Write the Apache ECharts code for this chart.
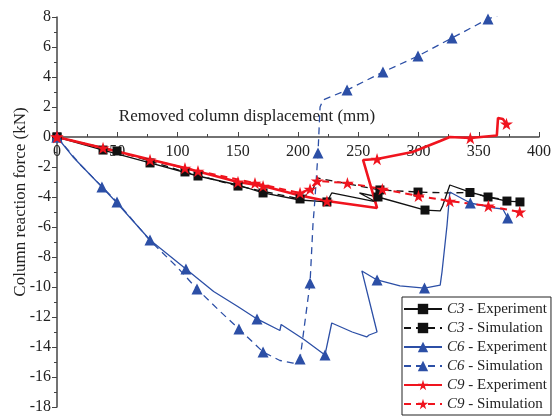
<!DOCTYPE html>
<html><head><meta charset="utf-8">
<script src="https://cdn.jsdelivr.net/npm/echarts@6/dist/echarts.min.js"></script>
<style>html,body{margin:0;padding:0;background:#fff}#c{width:552px;height:417px}</style>
</head><body><div id="c"></div>
<script>
// [x (mm), y (kN), marker flag]
const c3Experiment = [[0,0,1],[38.2,-0.87,1],[77.2,-1.73,1],[117,-2.6,1],[150.2,-3.2,0],[171,-3.73,1],[201.7,-4.2,0],[224,-4.33,1],[228,-3.73,0],[265,-4.33,0],[251,-3.73,0],[266.4,-4.0,1],[305.4,-4.87,1],[318,-4.93,0],[320,-4.6,0],[326,-3.2,0],[342.7,-3.67,0],[357.7,-4.0,1],[373.4,-4.27,1],[384.2,-4.33,0]];
const c3Simulation = [[0,0,1],[49.8,-0.93,1],[106.2,-2.33,1],[150.2,-3.27,1],[201.7,-4.13,1],[212,-3.6,0],[216,-2.73,0],[268,-3.53,1],[299.6,-3.67,1],[323.6,-3.73,0],[342.7,-3.7,1],[357.7,-4.0,0],[384.2,-4.33,1]];
const c6Experiment = [[0,0,1],[13.3,-1.33,0],[37.3,-3.33,1],[49.8,-4.4,0],[77.2,-6.87,1],[107,-8.8,1],[130,-10.3,0],[150,-11.3,0],[166,-12.13,1],[185,-12.9,0],[186,-12.5,0],[205,-13.5,0],[222.4,-14.53,1],[228,-12.4,0],[245,-13.0,0],[257,-13.33,0],[259,-13.2,0],[265.6,-13.0,0],[253,-8.93,0],[265.6,-9.53,1],[284.6,-9.93,0],[305,-10.07,1],[318,-9.87,0],[319.5,-9.0,0],[323.7,-5.87,0],[326,-3.67,0],[343,-4.4,1],[362,-4.73,0],[370,-4.8,0],[374,-5.4,1]];
const c6Simulation = [[0,0,1],[20,-1.9,0],[49.8,-4.33,1],[77.2,-6.9,0],[100,-8.7,0],[116.2,-10.13,1],[135,-11.6,0],[151,-12.8,1],[171,-14.33,1],[185,-14.9,0],[196,-15.07,0],[201.7,-14.8,1],[210,-9.73,1],[212.4,-5.87,0],[214,-4.2,0],[216.6,-1.07,1],[218.3,2.0,0],[220.7,2.47,0],[240.7,3.13,1],[270.5,4.33,1],[299.6,5.4,1],[327.8,6.6,1],[357.7,7.87,1],[369,8.2,0]];
const c9Experiment = [[0,0,1],[38.2,-0.73,1],[106.2,-2.07,1],[150.2,-3.0,1],[171,-3.27,1],[201.7,-3.9,0],[224,-4.27,1],[265.6,-4.73,0],[254,-1.53,0],[265.6,-1.47,1],[295,-1.0,0],[318,-0.27,0],[326,0,0],[343,-0.07,1],[365,0.1,0],[366,1.27,0],[370,1.2,0],[373,0.87,1]];
const c9Simulation = [[0,0,1],[77.2,-1.53,1],[117,-2.27,1],[164.3,-3.07,1],[201.7,-3.73,1],[210,-3.47,1],[216,-2.93,1],[241,-3.07,1],[270,-3.47,1],[300,-3.93,1],[326,-4.27,1],[358,-4.6,1],[384,-5.0,1]];
const seriesNames = ['C3 - Experiment','C3 - Simulation','C6 - Experiment','C6 - Simulation','C9 - Experiment','C9 - Simulation'];
const xTicks = [0,50,100,150,200,250,300,350,400];
const yTicks = [-18,-16,-14,-12,-10,-8,-6,-4,-2,0,2,4,6,8];

const STAR = 'path://M50,0 L61,35 L98,35 L68,57 L79,91 L50,70 L21,91 L32,57 L2,35 L39,35 Z';
const BLACK = '#111', BLUE = '#2c4fa6', RED = '#f0141e';
const FONT = '"Liberation Serif","Times New Roman",serif';

function mk(name, arr, color, symbol, size, dashed, width) {
  return {
    name, type: 'line', symbol, symbolSize: size, symbolKeepAspect: true,
    showSymbol: true, showAllSymbol: true,
    data: arr.map(p => p[2] ? {value: [p[0], p[1]]} : {value: [p[0], p[1]], symbol: 'none'}),
    lineStyle: {color, width, type: dashed ? [7, 5] : 'solid'},
    itemStyle: {color, borderWidth: 0},
    emphasis: {disabled: true}
  };
}

const GRID_TOP = 17, GRID_BOTTOM = 10, H = 417;
const yMin = yTicks[0], yMax = yTicks[yTicks.length-1];
const plotH = H - GRID_TOP - GRID_BOTTOM;
const zeroOffset = plotH * (0 - yMin) / (yMax - yMin); // distance of y=0 from bottom of plot

const chart = echarts.init(document.getElementById('c'), null, {renderer: 'canvas'});
chart.setOption({
  animation: false,
  backgroundColor: '#fff',
  grid: {left: 57, right: 13, top: GRID_TOP, bottom: GRID_BOTTOM, containLabel: false, outerBoundsMode: 'none'},
  xAxis: {
    type: 'value', min: xTicks[0], max: xTicks[xTicks.length-1], interval: 50,
    position: 'bottom', offset: -zeroOffset,
    axisLine: {onZero: false, lineStyle: {color: '#444', width: 1.5}},
    axisTick: {inside: true, length: 5, lineStyle: {color: '#444'}},
    minorTick: {show: true, splitNumber: 2, length: 3, lineStyle: {color: '#444'}},
    splitLine: {show: false},
    axisLabel: {color: '#222', fontFamily: FONT, fontSize: 16, margin: 7},
    name: 'Removed column displacement (mm)', nameLocation: 'middle', nameGap: -29,
    nameMoveOverlap: false,
    nameTextStyle: {color: '#222', fontFamily: FONT, fontSize: 17, padding: [0, 102, 0, 0]}
  },
  yAxis: {
    type: 'value', min: yMin, max: yMax, interval: 2,
    axisLine: {onZero: false, lineStyle: {color: '#444', width: 1.5}},
    axisTick: {length: 5, lineStyle: {color: '#444'}},
    minorTick: {show: true, splitNumber: 2, length: 3, lineStyle: {color: '#444'}},
    splitLine: {show: false},
    axisLabel: {color: '#222', fontFamily: FONT, fontSize: 16, margin: 6,
      formatter: v => String(v)},
    name: 'Column reaction force (kN)', nameLocation: 'middle', nameGap: 28, nameRotate: 90,
    nameMoveOverlap: false,
    nameTextStyle: {color: '#222', fontFamily: FONT, fontSize: 17, padding: [0, 0, 0, 20]}
  },
  legend: {
    orient: 'vertical', left: 402, top: 297, itemWidth: 38, itemHeight: 13, itemGap: 3,
    padding: [4, 4, 3, 1], borderColor: '#222', borderWidth: 1, backgroundColor: '#fff',
    data: seriesNames,
    formatter: n => '{i|' + n.slice(0, 2) + '}{r|' + n.slice(2) + '}',
    textStyle: {color: '#222', fontFamily: FONT, fontSize: 15, lineHeight: 16,
      rich: {i: {fontStyle: 'italic', fontFamily: FONT, fontSize: 15, lineHeight: 16, color: '#222'},
             r: {fontFamily: FONT, fontSize: 15, lineHeight: 16, color: '#222'}}}
  },
  series: [
    mk(seriesNames[0], c3Experiment, BLACK, 'rect', 9, false, 1.3),
    mk(seriesNames[1], c3Simulation, BLACK, 'rect', 9, true, 1.3),
    mk(seriesNames[2], c6Experiment, BLUE, 'triangle', 11, false, 1.3),
    mk(seriesNames[3], c6Simulation, BLUE, 'triangle', 11, true, 1.3),
    mk(seriesNames[4], c9Experiment, RED, STAR, 13, false, 2.6),
    mk(seriesNames[5], c9Simulation, RED, STAR, 13, true, 2)
  ]
});
</script></body></html>
